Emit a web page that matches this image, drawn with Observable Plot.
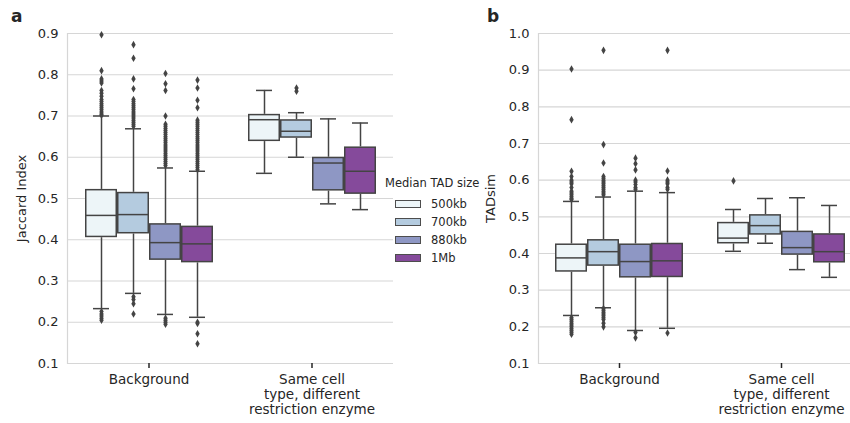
<!DOCTYPE html>
<html>
<head>
<meta charset="utf-8">
<script src="https://cdn.jsdelivr.net/npm/d3@7"></script>
<script src="https://cdn.jsdelivr.net/npm/@observablehq/plot@0.6"></script>
<style>
  html, body { margin: 0; padding: 0; background: #fff; }
  body { width: 850px; height: 423px; overflow: hidden; position: relative; font-family: "DejaVu Sans", sans-serif; color: #262626; }
  .panel { position: absolute; top: 0; }
  .panel svg { max-width: none !important; }
  .tag { position: absolute; font-weight: bold; font-size: 17px; line-height: 1; }
  #legend { position: absolute; left: 385px; top: 175px; font-size: 11.5px; }
  #legend .title { height: 20px; line-height: 16px; }
  #legend .row { display: flex; align-items: center; height: 18px; padding-left: 10px; }
  #legend .sw { width: 24px; height: 6px; border: 1px solid #4d4d4d; margin-right: 10px; }
</style>
</head>
<body>
<div id="pa" class="panel" style="left:0;width:400px"></div>
<div id="pb" class="panel" style="left:430px;width:440px"></div>
<div class="tag" style="left:11px;top:8px">a</div>
<div class="tag" style="left:487px;top:8px">b</div>
<div id="legend"></div>
<script>
// ---- categories & groups ----
const categories = ["Background", "Same cell type, different restriction enzyme"];
const categoryLines = ["Background", "Same cell\ntype, different\nrestriction enzyme"];
const sizes = ["500kb", "700kb", "880kb", "1Mb"];
const colors = ["#edf5f8", "#b4cbdf", "#8e97c4", "#854a9b"];
const legendTitle = "Median TAD size";

// ---- panel a: Jaccard Index (order: Background 500kb..1Mb, Same cell 500kb..1Mb) ----
const jacLow  = [0.233, 0.270, 0.219, 0.212, 0.561, 0.600, 0.487, 0.473];
const jacQ1   = [0.405, 0.414, 0.350, 0.344, 0.638, 0.646, 0.518, 0.510];
const jacMed  = [0.459, 0.461, 0.393, 0.390, 0.691, 0.663, 0.586, 0.566];
const jacQ3   = [0.522, 0.515, 0.439, 0.433, 0.704, 0.691, 0.600, 0.625];
const jacHigh = [0.700, 0.669, 0.574, 0.566, 0.762, 0.708, 0.693, 0.683];
const jacOut = [
  [0.897, 0.81, 0.79, 0.785, 0.78, 0.762, 0.755, 0.748, 0.74, 0.735, 0.73, 0.725, 0.72, 0.715, 0.71, 0.705, 0.702,
   0.226, 0.22, 0.215, 0.21, 0.205],
  [0.873, 0.84, 0.79, 0.766, 0.74, 0.735, 0.73, 0.725, 0.72, 0.715, 0.71, 0.705, 0.70, 0.695, 0.69, 0.685, 0.68, 0.675,
   0.262, 0.255, 0.245, 0.22],
  [0.803, 0.778, 0.762, 0.70, 0.68, 0.675, 0.67, 0.665, 0.66, 0.655, 0.65, 0.645, 0.64, 0.635, 0.63, 0.625, 0.62, 0.615, 0.61, 0.605, 0.60, 0.595, 0.59, 0.585, 0.58,
   0.21, 0.205, 0.20, 0.195],
  [0.787, 0.768, 0.738, 0.72, 0.69, 0.685, 0.68, 0.675, 0.67, 0.665, 0.66, 0.655, 0.65, 0.645, 0.64, 0.635, 0.63, 0.625, 0.62, 0.615, 0.61, 0.605, 0.60, 0.595, 0.59, 0.585, 0.58, 0.575, 0.57,
   0.20, 0.197, 0.172, 0.148],
  [],
  [0.768, 0.760],
  [],
  []
];

// ---- panel b: TADsim ----
const simLow  = [0.231, 0.252, 0.190, 0.196, 0.406, 0.428, 0.356, 0.335];
const simQ1   = [0.349, 0.365, 0.333, 0.334, 0.426, 0.450, 0.395, 0.374];
const simMed  = [0.388, 0.405, 0.378, 0.380, 0.442, 0.476, 0.416, 0.405];
const simQ3   = [0.426, 0.438, 0.426, 0.428, 0.485, 0.506, 0.461, 0.454];
const simHigh = [0.542, 0.554, 0.570, 0.566, 0.520, 0.550, 0.552, 0.531];
const simOut = [
  [0.903, 0.765, 0.624, 0.61, 0.60, 0.595, 0.59, 0.58, 0.57, 0.565, 0.56, 0.555, 0.55, 0.547,
   0.225, 0.22, 0.215, 0.21, 0.205, 0.20, 0.195, 0.19, 0.185, 0.18],
  [0.954, 0.697, 0.647, 0.61, 0.605, 0.60, 0.595, 0.59, 0.585, 0.58, 0.575, 0.57, 0.565, 0.56,
   0.25, 0.245, 0.24, 0.235, 0.23, 0.225, 0.22, 0.21, 0.20],
  [0.66, 0.645, 0.628, 0.60, 0.595, 0.588, 0.58, 0.575,
   0.185, 0.17],
  [0.954, 0.625, 0.60, 0.595, 0.59, 0.58, 0.575,
   0.183],
  [0.598],
  [],
  [],
  []
];

const yTicksA = [0.1, 0.2, 0.3, 0.4, 0.5, 0.6, 0.7, 0.8, 0.9];
const yTicksB = [0.1, 0.2, 0.3, 0.4, 0.5, 0.6, 0.7, 0.8, 0.9, 1.0];

// ---- build tables ----
function boxRows(low, q1, med, q3, high) {
  return low.map((_, i) => ({
    cat: categories[Math.floor(i / sizes.length)], size: sizes[i % sizes.length],
    low: low[i], q1: q1[i], med: med[i], q3: q3[i], high: high[i]
  }));
}
function outRows(lists) {
  return lists.flatMap((vals, i) => vals.map(v => ({
    cat: categories[Math.floor(i / sizes.length)], size: sizes[i % sizes.length], v
  })));
}

const ink = "#444444";
const gridColor = "#d6d6d6";

function panel({rows, outliers, yDomain, yTicks, label, width, marginLeft, marginRight, labelOffset}) {
  return Plot.plot({
    width, height: 423,
    marginLeft, marginRight, marginTop: 33, marginBottom: 60,
    style: {fontFamily: "'DejaVu Sans', sans-serif", fontSize: "13px", color: "#262626", background: "transparent", overflow: "visible", maxWidth: "none"},
    fx: {domain: categories, padding: 0},
    x: {domain: sizes, paddingInner: 0, paddingOuter: 0.5, axis: null},
    y: {domain: yDomain},
    color: {domain: sizes, range: colors},
    marks: [
      Plot.gridY(yTicks, {stroke: gridColor, strokeOpacity: 1, strokeWidth: 1.2}),
      Plot.frame({anchor: "left", facetAnchor: "left", stroke: gridColor, strokeWidth: 1.2}),
      Plot.axisY(yTicks, {tickSize: 0, tickPadding: 9, tickFormat: ".1f", label, labelAnchor: "center", labelArrow: "none", labelOffset, fontSize: 13}),
      Plot.axisFx({anchor: "bottom", tickSize: 5, tickPadding: 5, label: null, stroke: "#262626", strokeWidth: 1.5, lineHeight: 1.1, fontSize: 13.5,
        tickFormat: d => categoryLines[categories.indexOf(d)]}),
      Plot.ruleX(rows, {fx: "cat", x: "size", y1: "q3", y2: "high", stroke: ink, strokeWidth: 1.5}),
      Plot.ruleX(rows, {fx: "cat", x: "size", y1: "low", y2: "q1", stroke: ink, strokeWidth: 1.5}),
      Plot.tickY(rows, {fx: "cat", x: "size", y: "high", stroke: ink, strokeWidth: 1.5, inset: 8}),
      Plot.tickY(rows, {fx: "cat", x: "size", y: "low", stroke: ink, strokeWidth: 1.5, inset: 8}),
      Plot.barY(rows, {fx: "cat", x: "size", y1: "q1", y2: "q3", fill: "size", stroke: ink, strokeWidth: 1.5, inset: 0.75}),
      Plot.tickY(rows, {fx: "cat", x: "size", y: "med", stroke: ink, strokeWidth: 1.5, inset: 0.75}),
      Plot.dot(outliers, {fx: "cat", x: "size", y: "v", symbol: "diamond", r: 2.3, fill: ink, stroke: null})
    ]
  });
}

document.getElementById("pa").append(panel({
  rows: boxRows(jacLow, jacQ1, jacMed, jacQ3, jacHigh),
  outliers: outRows(jacOut),
  yDomain: [0.1, 0.9], yTicks: yTicksA, label: "Jaccard Index",
  width: 400, marginLeft: 67, marginRight: 7, labelOffset: 51
}));
document.getElementById("pb").append(panel({
  rows: boxRows(simLow, simQ1, simMed, simQ3, simHigh),
  outliers: outRows(simOut),
  yDomain: [0.1, 1.0], yTicks: yTicksB, label: "TADsim",
  width: 440, marginLeft: 108, marginRight: 8, labelOffset: 53
}));

// ---- legend ----
const legend = document.getElementById("legend");
const t = document.createElement("div");
t.className = "title"; t.textContent = legendTitle; legend.append(t);
sizes.forEach((s, i) => {
  const row = document.createElement("div"); row.className = "row";
  const sw = document.createElement("div"); sw.className = "sw"; sw.style.background = colors[i];
  const lb = document.createElement("span"); lb.textContent = s;
  row.append(sw, lb); legend.append(row);
});
</script>
</body>
</html>
